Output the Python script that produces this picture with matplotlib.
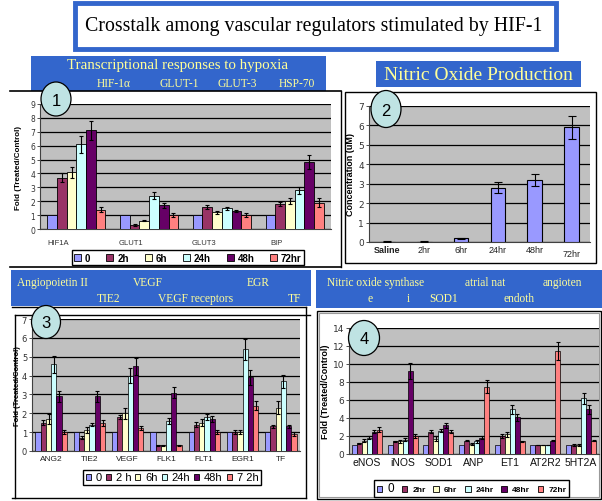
import matplotlib
matplotlib.use('Agg')
import matplotlib.pyplot as plt
import numpy as np
from matplotlib.patches import Rectangle, Ellipse, Patch
from matplotlib.lines import Line2D
from matplotlib.transforms import ScaledTranslation

# ---------------- data ----------------
series_colors = ['#9999ff', '#993366', '#ffffcc', '#ccffff', '#660066', '#ff8080']

p1_categories = ['HIF1A', 'GLUT1', 'GLUT3', 'BIP']
p1_labels = ['0', '2h', '6h', '24h', '48h', '72hr']
p1_t0 = [1, 1, 1, 1]
p1_t2 = [3.7, 0.3, 1.6, 1.8]
p1_t6 = [4.1, 0.6, 1.2, 2.0]
p1_t24 = [6.1, 2.4, 1.5, 2.8]
p1_t48 = [7.1, 1.7, 1.3, 4.8]
p1_t72 = [1.4, 1.0, 1.0, 1.9]
p1_e2 = [0.35, 0.05, 0.15, 0.15]
p1_e6 = [0.4, 0.05, 0.1, 0.2]
p1_e24 = [0.6, 0.25, 0.12, 0.25]
p1_e48 = [0.7, 0.2, 0.1, 0.5]
p1_e72 = [0.2, 0.15, 0.12, 0.3]

p2_categories = ['Saline', '2hr', '6hr', '24hr', '48hr', '72hr']
p2_values = [0.02, 0.02, 0.2, 2.8, 3.2, 5.9]
p2_errors = [0.02, 0.02, 0.02, 0.3, 0.3, 0.6]

p3_categories = ['ANG2', 'TIE2', 'VEGF', 'FLK1', 'FLT1', 'EGR1', 'TF']
p3_labels = ['0', '2 h', '6h', '24h', '48h', '7 2h']
p3_t0 = [1, 1, 1, 1, 1, 1, 1]
p3_t2 = [1.5, 0.7, 1.8, 0.3, 1.4, 1.0, 1.3]
p3_t6 = [1.7, 1.1, 2.0, 0.3, 1.5, 1.0, 2.3]
p3_t24 = [4.6, 1.4, 4.0, 1.6, 1.8, 5.4, 3.7]
p3_t48 = [2.9, 2.9, 4.5, 3.1, 1.7, 3.9, 1.3]
p3_t72 = [1.0, 1.5, 1.2, 0.3, 1.0, 2.4, 0.9]
p3_e2 = [0.12, 0.08, 0.12, 0.03, 0.12, 0.12, 0.1]
p3_e6 = [0.25, 0.15, 0.3, 0.03, 0.2, 0.12, 0.35]
p3_e24 = [0.45, 0.1, 0.4, 0.15, 0.15, 0.55, 0.35]
p3_e48 = [0.3, 0.3, 0.45, 0.3, 0.15, 0.4, 0.1]
p3_e72 = [0.1, 0.15, 0.1, 0.03, 0.1, 0.25, 0.1]

p4_categories = ['eNOS', 'iNOS', 'SOD1', 'ANP', 'ET1', 'AT2R2', '5HT2A']
p4_labels = ['0', '2hr', '6hr', '24hr', '48hr', '72hr']
p4_t0 = [1, 1, 1, 1, 1, 1, 1]
p4_t2 = [1.2, 1.4, 2.5, 1.5, 2.0, 1.0, 1.0]
p4_t6 = [1.5, 1.4, 1.7, 1.1, 2.2, 1.0, 1.0]
p4_t24 = [1.8, 1.6, 2.6, 1.4, 5.0, 1.0, 6.2]
p4_t48 = [2.5, 9.2, 3.2, 1.8, 4.1, 1.5, 5.0]
p4_t72 = [2.7, 2.0, 2.5, 7.5, 1.4, 11.4, 1.5]
p4_e2 = [0.05, 0.1, 0.2, 0.1, 0.2, 0.05, 0.1]
p4_e6 = [0.15, 0.2, 0.25, 0.15, 0.3, 0.05, 0.1]
p4_e24 = [0.15, 0.2, 0.2, 0.15, 0.5, 0.05, 0.6]
p4_e48 = [0.2, 0.9, 0.3, 0.15, 0.4, 0.1, 0.5]
p4_e72 = [0.25, 0.2, 0.2, 0.7, 0.1, 1.0, 0.1]

# ---------------- layout helpers ----------------
W, H = 602, 502
fig = plt.figure(figsize=(6.02, 5.02), dpi=100)
fig.patch.set_facecolor('white')

SERIF = ['Liberation Serif', 'DejaVu Serif']
SANS = ['Liberation Sans', 'DejaVu Sans']
BLUE = '#3366cc'
YEL = '#ffff99'


def ax_px(x0, y0, x1, y1, **kw):
    return fig.add_axes([x0 / W, 1 - y1 / H, (x1 - x0) / W, (y1 - y0) / H], **kw)


bg = ax_px(0, 0, W, H, zorder=0)
bg.set_xlim(0, W); bg.set_ylim(H, 0); bg.axis('off')
ov = ax_px(0, 0, W, H, zorder=20)
ov.set_xlim(0, W); ov.set_ylim(H, 0); ov.axis('off')
ov.patch.set_visible(False)


def rect(ax, x0, y0, x1, y1, **kw):
    ax.add_patch(Rectangle((x0, y0), x1 - x0, y1 - y0, **kw))


def line(ax, xs, ys, **kw):
    ax.add_line(Line2D(xs, ys, color=kw.pop('color', 'black'), lw=kw.pop('lw', 1), **kw))


# Title box
rect(bg, 75, 4, 556, 50, facecolor='white', edgecolor=BLUE, lw=3.5)
bg.text(314, 27, 'Crosstalk among vascular regulators stimulated by HIF-1',
        family=SERIF, fontsize=14.3, ha='center', va='center', color='black')

# Panel headers
rect(bg, 31, 57, 326, 92, facecolor=BLUE, edgecolor='none')
bg.text(178, 66, 'Transcriptional responses to hypoxia', family=SERIF, fontsize=10.8,
        ha='center', va='center', color=YEL)
for t, x in zip(['HIF-1α', 'GLUT-1', 'GLUT-3', 'HSP-70'], [97, 159, 217, 279]):
    bg.text(x, 84, t, family=SERIF, fontsize=8.3, ha='left', va='center', color=YEL)

rect(bg, 376, 62, 581, 88, facecolor=BLUE, edgecolor='none')
bg.text(478, 75, 'Nitric Oxide Production', family=SERIF, fontsize=14,
        ha='center', va='center', color=YEL)

rect(bg, 11, 271, 311, 307, facecolor=BLUE, edgecolor='none')
for t, x, y in [('Angiopoietin II', 17, 283), ('VEGF', 133, 283), ('EGR', 247, 283),
                ('TIE2', 97, 299), ('VEGF receptors', 158, 299), ('TF', 288, 299)]:
    bg.text(x, y, t, family=SERIF, fontsize=8.3, ha='left', va='center', color=YEL)

rect(bg, 316, 271, 602, 309, facecolor=BLUE, edgecolor='none')
for t, x, y in [('Nitric oxide synthase', 327, 283), ('atrial nat', 465, 283),
                ('angioten', 543, 283), ('e', 367, 299), ('i', 407, 299),
                ('SOD1', 429, 299), ('endoth', 503, 299)]:
    bg.text(x, y, t, family=SERIF, fontsize=8.3, ha='left', va='center', color=YEL)

# Panel frames
line(bg, [10, 341], [92, 92], lw=1.2)
line(bg, [341, 341], [92, 268], lw=1.0)
line(bg, [10, 341], [268, 268], lw=1.2)
rect(bg, 345, 93, 596, 264, facecolor='white', edgecolor='black', lw=1.0)

line(bg, [12, 306], [308, 308], lw=1.0)
line(bg, [306, 306], [308, 499], lw=1.0)
line(bg, [15, 310], [316, 316], lw=1.0)
line(bg, [15, 15], [316, 499], lw=1.0)
line(bg, [12, 306], [499, 499], lw=1.0)
rect(bg, 317, 312, 601, 500, facecolor='white', edgecolor='black', lw=1.0)
rect(bg, 319, 314, 599, 498, facecolor='none', edgecolor='#999999', lw=0.8)


# ---------------- chart helpers ----------------
def style_axes(ax, ymax, ystep, tick_fs):
    ax.set_facecolor('#c0c0c0')
    ax.set_ylim(0, ymax)
    ax.set_yticks(np.arange(0, ymax + 0.001, ystep))
    ax.grid(axis='y', color='black', lw=0.9)
    ax.set_axisbelow(True)
    for s in ['top', 'right']:
        ax.spines[s].set_visible(False)
    ax.spines['left'].set_color('#404040')
    ax.spines['bottom'].set_color('#404040')
    ax.spines['left'].set_linewidth(0.8)
    ax.spines['bottom'].set_linewidth(0.8)
    ax.tick_params(axis='y', length=2, width=0.6, labelsize=tick_fs, pad=1.5,
                   colors='#333333')
    ax.tick_params(axis='x', length=0, pad=3)


def grouped(ax, ncat, vals, errs, group_w, lw=0.6, cap=1.5):
    n = len(vals)
    bw = group_w / n
    x = np.arange(ncat)
    for i, (v, e) in enumerate(zip(vals, errs)):
        pos = x - group_w / 2 + bw * (i + 0.5)
        ax.bar(pos, v, bw, color=series_colors[i], edgecolor='black', lw=lw, zorder=3)
        if e is not None:
            ax.errorbar(pos, v, yerr=e, fmt='none', ecolor='black', elinewidth=0.8,
                        capsize=cap, capthick=0.8, zorder=4)


def make_legend(labels, cx, cy, fs, weight, colsp, tpad=0.4, hl=0.7):
    handles = [Patch(facecolor=c, edgecolor='black', lw=0.6) for c in series_colors]
    leg = fig.legend(handles, labels, loc='center', bbox_to_anchor=(cx / W, 1 - cy / H),
                     ncol=6, frameon=True, fancybox=False, framealpha=1,
                     edgecolor='black', handlelength=hl, handleheight=hl,
                     handletextpad=tpad, columnspacing=colsp, borderpad=0.25,
                     borderaxespad=0, prop={'family': SANS, 'size': fs, 'weight': weight})
    leg.get_frame().set_linewidth(1.0)
    return leg


# ---------------- Panel 1 ----------------
ax1 = ax_px(40, 105, 331, 230, zorder=5)
style_axes(ax1, 9, 1, 5.5)
grouped(ax1, len(p1_categories), [p1_t0, p1_t2, p1_t6, p1_t24, p1_t48, p1_t72],
        [None, p1_e2, p1_e6, p1_e24, p1_e48, p1_e72], 0.8)
ax1.set_xlim(-0.5, len(p1_categories) - 0.5)
ax1.set_xticks(np.arange(len(p1_categories)) - 0.25)
ax1.set_xticklabels(p1_categories, family=SANS, fontsize=5.5, color='#333333')
ax1.tick_params(axis='x', pad=7)
ax1.set_ylabel('Fold (Treated/Control)', family=SANS, fontsize=5.8, fontweight='bold')
ax1.yaxis.set_label_coords((22 - 40) / 291, 0.5)
make_legend(p1_labels, 188, 258.5, 7, 'bold', 1.65)

# ---------------- Panel 2 ----------------
ax2 = ax_px(369, 107, 590, 243, zorder=5)
style_axes(ax2, 7, 1, 6.5)
xp2 = np.arange(len(p2_categories))
ax2.bar(xp2, p2_values, 0.4, color=series_colors[0], edgecolor='black', lw=0.8, zorder=3)
ax2.errorbar(xp2, p2_values, yerr=p2_errors, fmt='none', ecolor='black', elinewidth=0.8,
             capsize=3, capthick=0.8, zorder=4)
ax2.set_xlim(-0.5, len(p2_categories) - 0.5)
ax2.set_xticks(xp2)
ax2.set_xticklabels(p2_categories, family=SANS, fontsize=6.5, color='#222222')
ax2.get_xticklabels()[0].set_fontweight('bold')
ax2.tick_params(axis='x', pad=2)
lab72 = ax2.get_xticklabels()[-1]
lab72.set_transform(lab72.get_transform() + ScaledTranslation(0, -4 / 100, fig.dpi_scale_trans))
ax2.set_ylabel('Concentration (uM)', family=SANS, fontsize=6.5, fontweight='bold')
ax2.yaxis.set_label_coords((355 - 369) / 221, 0.5)

# ---------------- Panel 3 ----------------
ax3 = ax_px(32, 320, 300, 452, zorder=5)
style_axes(ax3, 7, 1, 6)
grouped(ax3, len(p3_categories), [p3_t0, p3_t2, p3_t6, p3_t24, p3_t48, p3_t72],
        [None, p3_e2, p3_e6, p3_e24, p3_e48, p3_e72], 0.82, lw=0.5, cap=1.3)
ax3.set_xlim(-0.5, len(p3_categories) - 0.5)
ax3.set_xticks(np.arange(len(p3_categories)))
ax3.set_xticklabels(p3_categories, family=SANS, fontsize=6, color='#222222')
ax3.tick_params(axis='x', pad=3)
ax3.set_ylabel('Fold (Treated/Control)', family=SANS, fontsize=5.5, fontweight='bold')
ax3.yaxis.set_label_coords((21 - 32) / 268, 0.5)
make_legend(p3_labels, 172, 478.5, 8, 'normal', 0.35, tpad=0.45, hl=0.45)

# ---------------- Panel 4 ----------------
ax4 = ax_px(349, 329, 599, 455, zorder=5)
style_axes(ax4, 14, 2, 6.5)
grouped(ax4, len(p4_categories), [p4_t0, p4_t2, p4_t6, p4_t24, p4_t48, p4_t72],
        [None, p4_e2, p4_e6, p4_e24, p4_e48, p4_e72], 0.84, lw=0.5, cap=1.3)
ax4.set_xlim(-0.5, len(p4_categories) - 0.5)
ax4.set_xticks(np.arange(len(p4_categories)))
ax4.set_xticklabels(p4_categories, family=SANS, fontsize=7.5, color='#111111')
ax4.tick_params(axis='x', pad=2)
ax4.set_ylabel('Fold (Treated/Control)', family=SANS, fontsize=6.5, fontweight='bold')
ax4.yaxis.set_label_coords((330 - 349) / 250, 0.5)
leg4 = make_legend(p4_labels, 471.5, 489.5, 6, 'bold', 0.9, tpad=0.6, hl=0.7)
leg4.get_texts()[0].set_fontweight('normal')
leg4.get_texts()[0].set_fontsize(8.5)

# ---------------- number badges ----------------
for num, cx, cy, w, h in [('1', 56, 100, 30, 34), ('2', 386, 110, 30, 37),
                          ('3', 46, 323, 29, 33), ('4', 364, 339, 31, 35)]:
    ov.add_patch(Ellipse((cx, cy), w, h, facecolor='#bfe3e3', edgecolor='black', lw=0.9))
    ov.text(cx, cy + 1, num, family=SANS, fontsize=12, ha='center', va='center')

fig.savefig('out.png', dpi=100)
